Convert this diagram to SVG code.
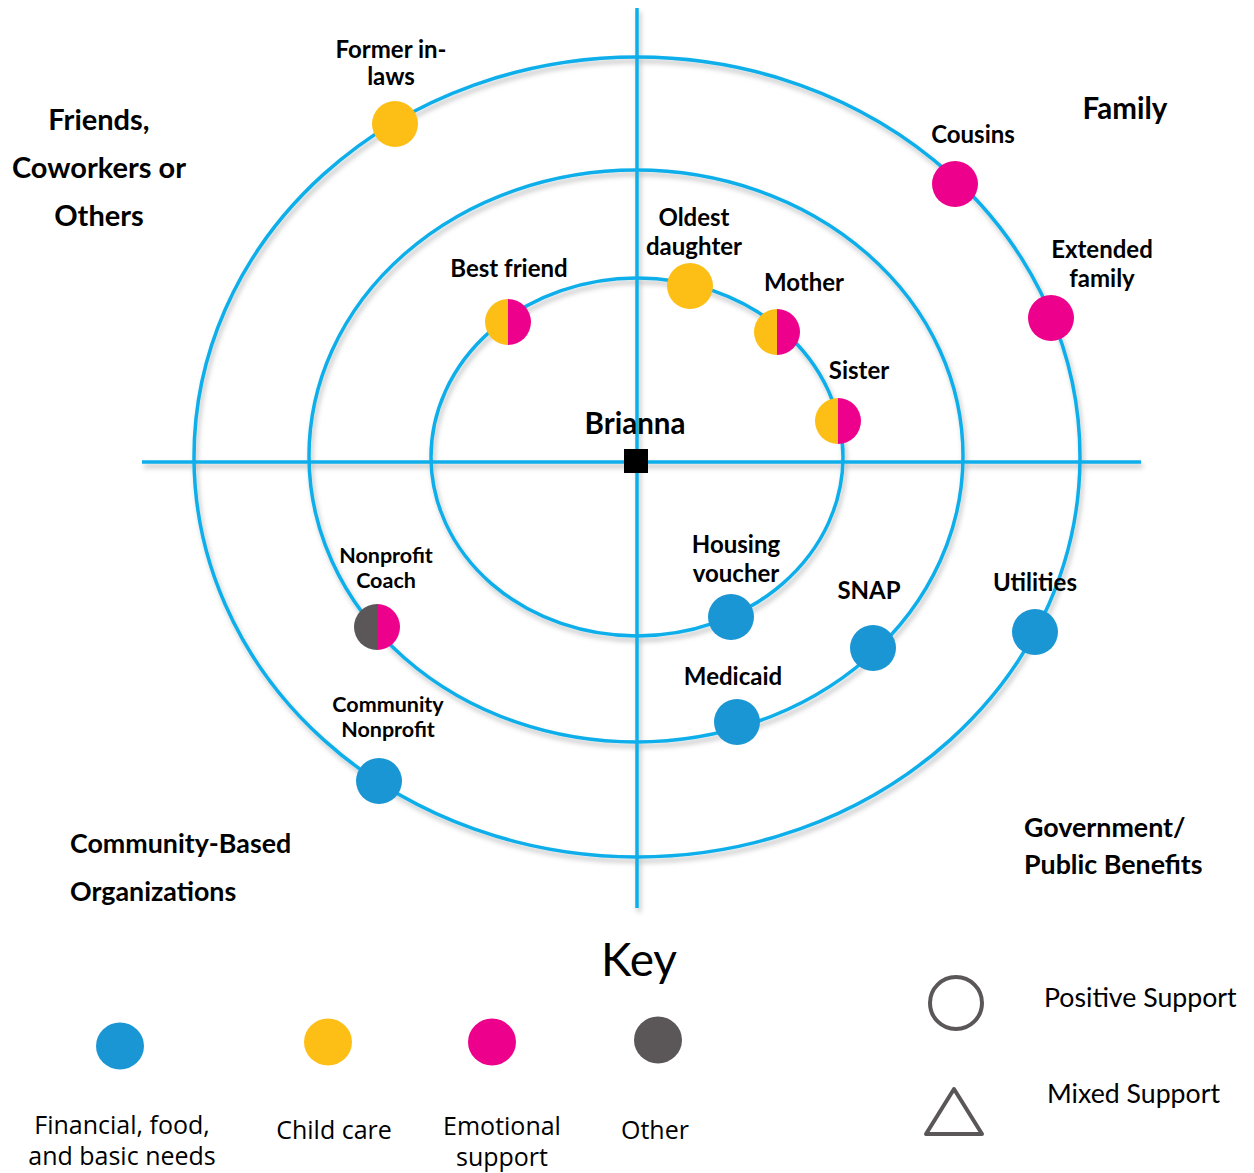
<svg xmlns="http://www.w3.org/2000/svg" xmlns:xlink="http://www.w3.org/1999/xlink" width="1254" height="1173" viewBox="0 0 1254 1173">
<style>
.ring{fill:none;stroke:#0BAEEA;stroke-width:3.5}
.ax{stroke:#0BAEEA;stroke-width:3.5}
.b{fill:#1A96D4}.y{fill:#FDBE16}.m{fill:#EC008C}.g{fill:#5B5758}
.lb{font-family:Lato,"Liberation Sans",sans-serif;font-weight:bold;fill:#000;text-anchor:middle}
.s20{font-size:21.5px}.s24{font-size:24px}.s29{font-size:29.5px}
.cat{font-family:Lato,"Liberation Sans",sans-serif;font-weight:bold;font-size:26.8px;fill:#000}
.big{font-size:29px}
.key{font-family:"Open Sans","Liberation Sans",sans-serif;font-size:25px;fill:#000;text-anchor:middle}
.kl{font-family:Lato,"Liberation Sans",sans-serif;font-size:26.7px;fill:#000}
.kt{font-family:Lato,"Liberation Sans",sans-serif;font-size:46px;fill:#000;text-anchor:middle}
</style>
<defs>
<filter id="sh" x="-10%" y="-10%" width="120%" height="120%">
<feDropShadow dx="2" dy="4" stdDeviation="2.5" flood-color="#000" flood-opacity="0.25"/>
</filter>
<path id="hl" d="M0,-23 A23,23 0 0 0 0,23 Z"/>
<path id="hr" d="M0,-23 A23,23 0 0 1 0,23 Z"/>
</defs>
<rect width="1254" height="1173" fill="#fff"/>
<g id="connectors" filter="url(#sh)">
<ellipse class="ring" cx="637" cy="457" rx="443" ry="400"/>
<ellipse class="ring" cx="636" cy="456" rx="327" ry="286"/>
<ellipse class="ring" cx="637" cy="457" rx="206" ry="179"/>
<line class="ax" x1="142" y1="462" x2="1141" y2="462"/>
<line class="ax" x1="637" y1="8" x2="637" y2="908"/>
</g>
<g id="brianna">
<rect x="624" y="449" width="24" height="24" fill="#000"/>
<text class="lb s29" x="635" y="434">Brianna</text>
</g>
<g id="former-in-laws">
<circle class="y" cx="395" cy="124" r="23"/>
<text class="lb s24" x="391" y="58">Former in-</text>
<text class="lb s24" x="391" y="85">laws</text>
</g>
<g id="cousins">
<circle class="m" cx="955" cy="184" r="23"/>
<text class="lb s24" x="973" y="143">Cousins</text>
</g>
<g id="extended-family">
<circle class="m" cx="1051" cy="318" r="23"/>
<text class="lb s24" x="1102" y="258">Extended</text>
<text class="lb s24" x="1102" y="287">family</text>
</g>
<g id="best-friend">
<use href="#hl" x="508" y="322" class="y"/>
<use href="#hr" x="508" y="322" class="m"/>
<text class="lb s24" x="509" y="277">Best friend</text>
</g>
<g id="oldest-daughter">
<circle class="y" cx="690" cy="286" r="23"/>
<text class="lb s24" x="694" y="226">Oldest</text>
<text class="lb s24" x="694" y="255">daughter</text>
</g>
<g id="mother">
<use href="#hl" x="777" y="332" class="y"/>
<use href="#hr" x="777" y="332" class="m"/>
<text class="lb s24" x="804" y="291">Mother</text>
</g>
<g id="sister">
<use href="#hl" x="838" y="421" class="y"/>
<use href="#hr" x="838" y="421" class="m"/>
<text class="lb s24" x="859" y="379">Sister</text>
</g>
<g id="housing-voucher">
<circle class="b" cx="731" cy="617" r="23"/>
<text class="lb s24" x="736" y="553">Housing</text>
<text class="lb s24" x="736" y="582">voucher</text>
</g>
<g id="snap">
<circle class="b" cx="873" cy="648" r="23"/>
<text class="lb s24" x="869" y="599">SNAP</text>
</g>
<g id="utilities">
<circle class="b" cx="1035" cy="632" r="23"/>
<text class="lb s24" x="1035" y="591">Utilities</text>
</g>
<g id="medicaid">
<circle class="b" cx="737" cy="722" r="23"/>
<text class="lb s24" x="733" y="685">Medicaid</text>
</g>
<g id="nonprofit-coach">
<use href="#hl" x="377" y="627" class="g"/>
<use href="#hr" x="377" y="627" class="m"/>
<text class="lb s20" x="386" y="563">Nonprofit</text>
<text class="lb s20" x="386" y="588">Coach</text>
</g>
<g id="community-nonprofit">
<circle class="b" cx="379" cy="781" r="23"/>
<text class="lb s20" x="388" y="712">Community</text>
<text class="lb s20" x="388" y="737">Nonprofit</text>
</g>
<g id="cat-friends">
<text class="cat big" x="99" y="130" text-anchor="middle">Friends,</text>
<text class="cat big" x="99" y="178" text-anchor="middle">Coworkers or</text>
<text class="cat big" x="99" y="226" text-anchor="middle">Others</text>
</g>
<g id="cat-family">
<text class="cat" x="1125" y="119" text-anchor="middle" style="font-size:29.5px">Family</text>
</g>
<g id="cat-community">
<text class="cat" x="70" y="853">Community-Based</text>
<text class="cat" x="70" y="901">Organizations</text>
</g>
<g id="cat-government">
<text class="cat" x="1024" y="837">Government/</text>
<text class="cat" x="1024" y="874">Public Benefits</text>
</g>
<g id="key">
<text class="kt" x="639" y="976">Key</text>
<ellipse class="b" cx="120" cy="1046" rx="24" ry="23.5"/>
<ellipse class="y" cx="328" cy="1042" rx="24" ry="23.5"/>
<ellipse class="m" cx="492" cy="1042" rx="24" ry="23.5"/>
<ellipse class="g" cx="658" cy="1040" rx="24" ry="23.5"/>
<text class="key" x="122" y="1134">Financial, food,</text>
<text class="key" x="122" y="1165">and basic needs</text>
<text class="key" x="334" y="1139">Child care</text>
<text class="key" x="502" y="1135">Emotional</text>
<text class="key" x="502" y="1166">support</text>
<text class="key" x="655" y="1139">Other</text>
<circle cx="956" cy="1003" r="26" fill="none" stroke="#5B5758" stroke-width="4"/>
<text class="kl" x="1044" y="1007">Positive Support</text>
<polygon points="954,1089 926,1134 982,1134" fill="none" stroke="#5B5758" stroke-width="4" stroke-linejoin="round"/>
<text class="kl" x="1047" y="1103">Mixed Support</text>
</g>
</svg>
